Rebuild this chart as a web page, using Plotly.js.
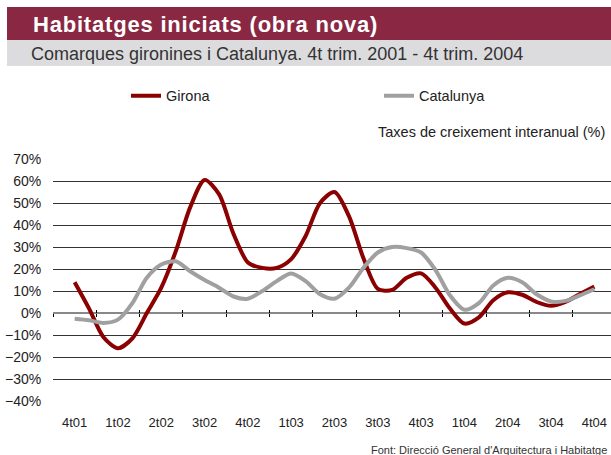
<!DOCTYPE html>
<html>
<head>
<meta charset="utf-8">
<script src="https://cdn.plot.ly/plotly-3.0.1.min.js"></script>
<style>
  html, body { margin: 0; padding: 0; background: #fff; overflow: hidden; }
  #wrap { position: relative; width: 611px; height: 455px; overflow: hidden; font-family: "Liberation Sans", Arial, sans-serif; }
  #plot { position: absolute; left: 0; top: 0; width: 616px; height: 455px; }
  .bar-title { position: absolute; left: 7px; top: 7px; width: 604px; height: 33px; background: #8a2843; z-index: 2; }
  .bar-sub { position: absolute; left: 7px; top: 40px; width: 604px; height: 26px; background: #dcdcde; z-index: 2; }
  .title { position: absolute; left: 33px; top: 13.7px; font-size: 22px; line-height: 22px; font-weight: bold;
           color: #fff; letter-spacing: 0.8px; white-space: nowrap; z-index: 3; }
  .sub { position: absolute; left: 31px; top: 44.7px; font-size: 18px; line-height: 18px; color: #333;
         white-space: nowrap; z-index: 3; }
  .foot { position: absolute; left: 371px; top: 443.5px; font-size: 11px; line-height: 12px; color: #333;
          white-space: nowrap; z-index: 3; }
</style>
</head>
<body>
<div id="wrap">
  <div id="plot"></div>
  <div class="bar-title"></div>
  <div class="bar-sub"></div>
  <div class="title">Habitatges iniciats (obra nova)</div>
  <div class="sub">Comarques gironines i Catalunya. 4t trim. 2001 - 4t trim. 2004</div>
  <div class="foot">Font: Direcció General d'Arquitectura i Habitatge</div>
</div>
<script>
// trimestres (one label every 3 monthly points)
const quarterLabels = ["4t01", "1t02", "2t02", "3t02", "4t02", "1t03", "2t03",
                       "3t03", "4t03", "1t04", "2t04", "3t04", "4t04"];

// taxes de creixement interanual (%), monthly points
const girona = [14, 2, -11, -16, -11.5, 0, 11.5, 28, 48, 60.5, 54, 36, 23,
                20.5, 20.5, 24.5, 35, 50, 55, 44, 25, 11, 10.5, 16, 18,
                11.5, 2, -4.8, -2, 5.8, 9.4, 8.3, 5, 3.3, 5, 8.6, 12];
const catalunya = [-2.6, -3.3, -4.5, -3, 4.5, 16, 22, 23.5, 19, 15, 11.5, 7.5, 6.5,
                   10, 14.5, 18, 14.5, 8.5, 6.5, 11.5, 20.5, 27.5, 30, 29.5, 27.5,
                   19.5, 8, 1.5, 4.5, 12.5, 16, 14, 8.5, 5.3, 5.5, 8, 10.8];

const monthIdx = girona.map((_, i) => i);
const labelPos = quarterLabels.map((_, i) => i * 3);
const boundaryPos = quarterLabels.map((_, i) => i * 3 - 1.5).concat([quarterLabels.length * 3 - 1.5]);
const xRange = [-1.5, quarterLabels.length * 3 - 1.5];

var data = [
  {
    type: "scatter", mode: "lines", name: "Girona", legend: "legend",
    x: monthIdx, y: girona,
    line: { color: "#8b0000", width: 4, shape: "spline", smoothing: 0.8 },
  },
  {
    type: "scatter", mode: "lines", name: "Catalunya", legend: "legend2",
    x: monthIdx, y: catalunya,
    line: { color: "#a0a0a0", width: 4, shape: "spline", smoothing: 0.8 },
  },
  // carriers for the tick axes on the 0% line
  { type: "scatter", mode: "lines", x: monthIdx, y: girona, xaxis: "x2", opacity: 0,
    showlegend: false, hoverinfo: "skip" },
  { type: "scatter", mode: "lines", x: monthIdx, y: girona, xaxis: "x3", opacity: 0,
    showlegend: false, hoverinfo: "skip" },
];

var zeroPos = 40 / 110;
var tickAxis = {
  range: xRange, anchor: "free", position: zeroPos, overlaying: "x",
  tickmode: "array", tickvals: boundaryPos, ticklen: 3, tickwidth: 1, tickcolor: "#000",
  showticklabels: false, showgrid: false, zeroline: false, showline: false, fixedrange: true,
};

function px2x(p) { return (p - 53) / 563; }
function px2y(p) { return (401.3 - p) / 242; }

var legendBase = {
  orientation: "h", xanchor: "left", yanchor: "middle", y: px2y(96),
  font: { size: 14.5, color: "#222" }, bgcolor: "rgba(0,0,0,0)",
};

var layout = {
  width: 616, height: 455,
  margin: { l: 53, r: 0, t: 159, b: 54 },
  paper_bgcolor: "#fff", plot_bgcolor: "#fff",
  font: { family: "Liberation Sans, Arial, sans-serif", color: "#222", size: 14 },
  showlegend: true,
  legend: Object.assign({}, legendBase, { x: px2x(126) }),
  legend2: Object.assign({}, legendBase, { x: px2x(379) }),
  xaxis: {
    range: xRange, tickmode: "array", tickvals: labelPos, ticktext: quarterLabels,
    ticks: "outside", ticklen: 9, tickcolor: "rgba(0,0,0,0)",
    showgrid: false, zeroline: false, showline: false, fixedrange: true,
    tickfont: { size: 13, color: "#222" },
  },
  xaxis2: Object.assign({}, tickAxis, { ticks: "outside" }),
  xaxis3: Object.assign({}, tickAxis, { ticks: "inside" }),
  yaxis: {
    range: [-40, 70], dtick: 10, ticksuffix: "%",
    showgrid: true, gridcolor: "#333", gridwidth: 1,
    zeroline: true, zerolinecolor: "#888", zerolinewidth: 2,
    ticks: "outside", ticklen: 8, tickcolor: "rgba(0,0,0,0)",
    showline: false, fixedrange: true,
    tickfont: { size: 14, color: "#222" },
  },
  annotations: [
    {
      text: "Taxes de creixement interanual (%)",
      xref: "paper", yref: "paper",
      x: px2x(607), y: px2y(132),
      xanchor: "right", yanchor: "middle", showarrow: false,
      font: { size: 14.5, color: "#222" },
    },
  ],
};

Plotly.newPlot("plot", data, layout, { displayModeBar: false, staticPlot: true });
</script>
</body>
</html>
